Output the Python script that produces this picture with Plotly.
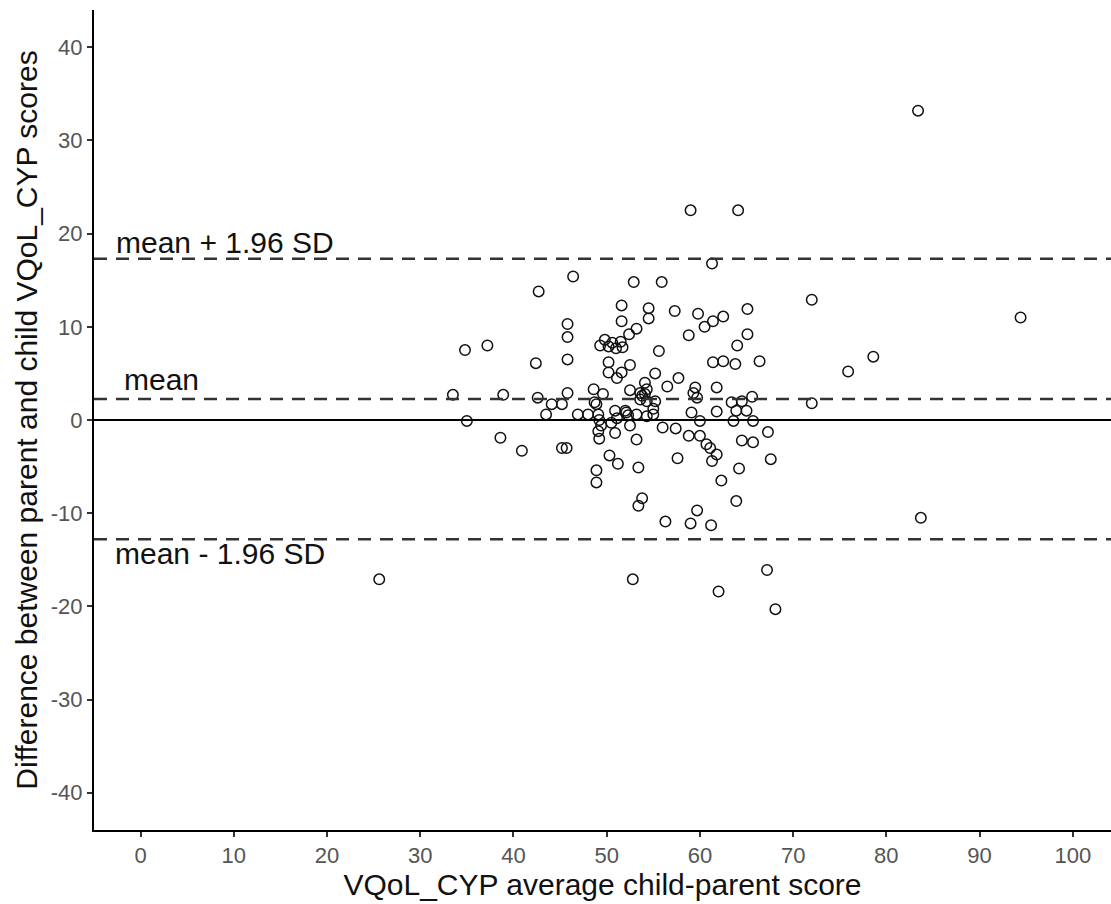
import plotly.graph_objects as go

# Average child-parent score (x) and parent-child difference (y)
avg_score = [
    25.6, 33.5, 34.8, 35.0, 37.2, 38.6, 38.9, 40.9, 42.4, 42.7, 42.6, 43.5, 44.1, 45.2,
    45.2, 45.7, 45.8, 45.8, 45.8, 45.8, 46.4, 46.9, 48.0, 48.6, 48.9, 49.1, 48.9, 48.9,
    49.1, 49.2, 49.2, 49.4, 49.6, 49.3, 49.8, 50.2, 50.6, 51.0, 51.5, 51.7, 50.2, 50.2,
    50.3, 50.5, 50.9, 50.9, 51.1, 51.1, 51.2, 51.6, 51.6, 51.6, 52.0, 52.5, 52.5, 52.4,
    52.5, 52.8, 52.9, 53.2, 53.2, 53.2, 53.4, 53.4, 53.6, 53.6, 53.8, 54.1, 54.1, 54.3,
    54.3, 54.5, 54.5, 55.0, 55.0, 55.2, 55.2, 55.6, 55.9, 56.0, 56.3, 56.5, 57.3, 57.4,
    57.7, 57.6, 58.8, 58.8, 59.0, 59.0, 59.1, 59.5, 59.3, 59.7, 59.7, 59.8, 60.0, 60.0,
    60.5, 60.7, 61.1, 61.2, 61.3, 61.3, 61.4, 61.4, 61.8, 61.8, 61.8, 62.0, 62.3, 62.5,
    62.5, 63.4, 63.6, 63.8, 63.9, 64.0, 63.9, 64.1, 64.2, 64.5, 64.5, 65.0, 65.1, 65.1,
    65.6, 65.7, 65.7, 66.4, 67.2, 67.3, 67.6, 68.1, 72.0, 72.0, 75.9, 78.6, 83.4, 83.7,
    94.4, 52.1, 52.3, 53.8, 54.3, 48.7,
]
diff_score = [
    -17.1, 2.7, 7.5, -0.1, 8.0, -1.9, 2.7, -3.3, 6.1, 13.8, 2.4, 0.6, 1.7, 1.7,
    -3.0, -3.0, 6.5, 8.9, 10.3, 2.9, 15.4, 0.6, 0.6, 3.3, 1.7, 0.6, -5.4, -6.7,
    -1.2, 0.0, -2.0, -0.6, 2.8, 8.0, 8.6, 7.9, 8.3, 7.7, 8.4, 7.8, 6.2, 5.1,
    -3.8, -0.3, 1.0, -1.4, 0.2, 4.5, -4.7, 5.1, 10.6, 12.3, 1.0, 5.9, 3.2, 9.2,
    -0.6, -17.1, 14.8, 9.8, 0.6, -2.1, -5.1, -9.2, 2.9, 2.2, -8.4, 2.8, 4.0, 2.0,
    0.4, 12.0, 10.9, 1.2, 0.6, 5.0, 2.0, 7.4, 14.8, -0.8, -10.9, 3.6, 11.7, -0.9,
    4.5, -4.1, 9.1, -1.7, 22.5, -11.1, 0.8, 3.5, 2.9, 2.4, -9.7, 11.4, -0.1, -1.7,
    10.0, -2.6, -3.0, -11.3, -4.4, 16.8, 10.6, 6.2, -3.7, 3.5, 0.9, -18.4, -6.5, 11.1,
    6.3, 1.9, -0.1, 6.0, -8.7, 8.0, 1.0, 22.5, -5.2, 2.0, -2.2, 1.0, 9.2, 11.9,
    2.5, -0.1, -2.4, 6.3, -16.1, -1.3, -4.2, -20.3, 12.9, 1.8, 5.2, 6.8, 33.2, -10.5,
    11.0, 0.8, 0.5, 2.6, 3.3, 1.9,
]

mean_diff = 2.25
upper_loa = 17.3
lower_loa = -12.8

x_ticks = [0, 10, 20, 30, 40, 50, 60, 70, 80, 90, 100]
y_ticks = [-40, -30, -20, -10, 0, 10, 20, 30, 40]

line_labels = ["mean + 1.96 SD", "mean", "mean - 1.96 SD"]
label_x = [9.0, 2.2, 8.5]
label_y = [19.0, 4.3, -14.3]

FONT = "Liberation Sans, Arial, sans-serif"

fig = go.Figure()

fig.add_trace(go.Scatter(
    x=avg_score, y=diff_score, mode="markers",
    marker=dict(symbol="circle-open", size=10.5, color="#111111", line=dict(width=1.5)),
    showlegend=False, hoverinfo="x+y",
))

fig.add_hline(y=0, line=dict(color="black", width=2))
for yv in (upper_loa, mean_diff, lower_loa):
    fig.add_hline(y=yv, line=dict(color="#333333", width=2.5, dash="13px,9px"))

for txt, xv, yv in zip(line_labels, label_x, label_y):
    fig.add_annotation(x=xv, y=yv, text=txt, showarrow=False,
                       font=dict(family=FONT, size=30, color="#111111"),
                       xanchor="center", yanchor="middle")

fig.update_layout(
    width=1111, height=904,
    margin=dict(l=94, r=0, t=10, b=74),
    paper_bgcolor="white", plot_bgcolor="white",
    font=dict(family=FONT),
    xaxis=dict(
        range=[-5, 104.1], tickvals=x_ticks, ticktext=[str(v) for v in x_ticks],
        showgrid=False, zeroline=False, showline=True, linecolor="black", linewidth=2,
        ticks="outside", ticklen=5, tickwidth=1.5, tickcolor="#333333",
        tickfont=dict(family=FONT, size=22, color="#555555"),
        title=dict(text="VQoL_CYP average child-parent score",
                   font=dict(family=FONT, size=30, color="#111111"), standoff=0),
    ),
    yaxis=dict(
        range=[-44, 44], tickvals=y_ticks, ticktext=[str(v) for v in y_ticks],
        showgrid=False, zeroline=False, showline=True, linecolor="black", linewidth=2,
        ticks="outside", ticklen=5, tickwidth=1.5, tickcolor="#333333",
        tickfont=dict(family=FONT, size=22, color="#555555"),
        title=dict(text="Difference between parent and child VQoL_CYP scores",
                   font=dict(family=FONT, size=30, color="#111111"), standoff=4),
    ),
)

fig.write_html(
    "out.html",
    config={"displayModeBar": False},
    post_script="document.body.style.margin='0';document.body.style.overflow='hidden';",
)
